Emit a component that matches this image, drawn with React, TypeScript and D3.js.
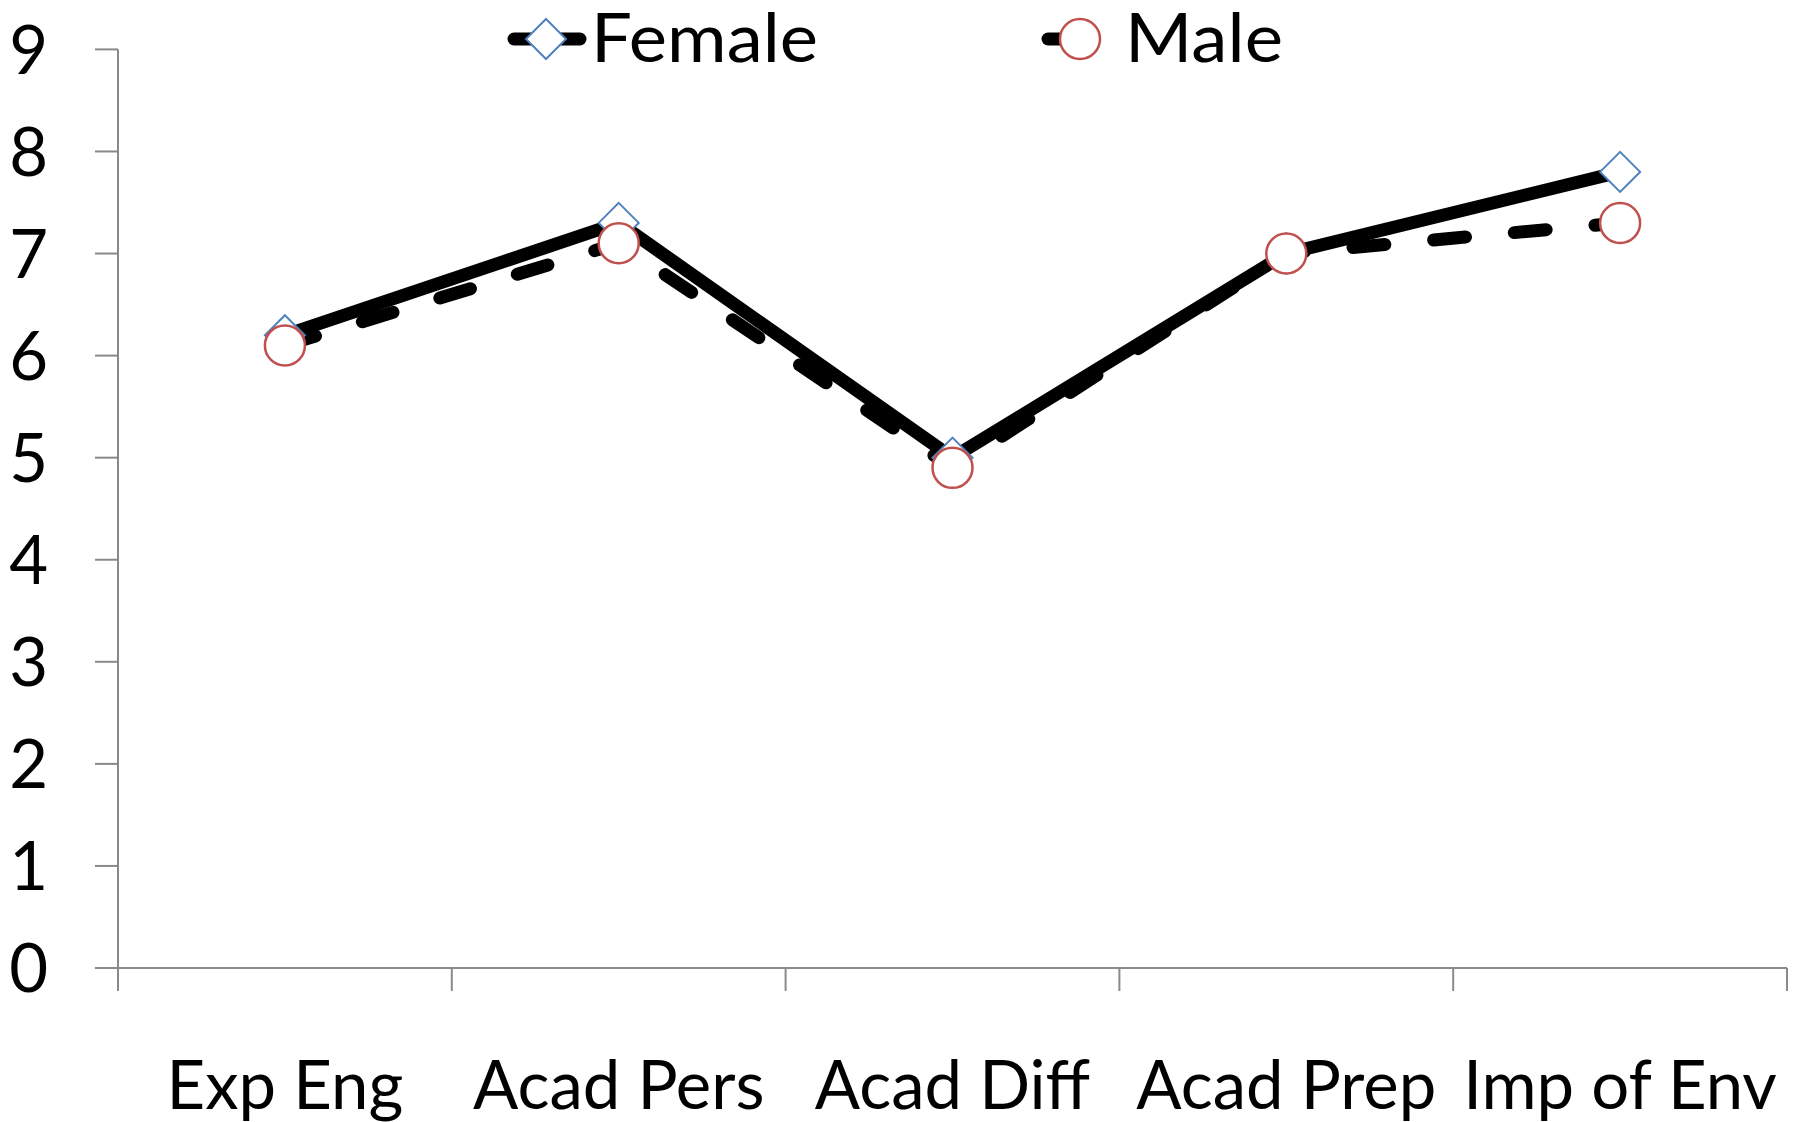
import React, { useEffect, useRef } from "react";
import * as d3 from "d3";

const categories = ["Exp Eng", "Acad Pers", "Acad Diff", "Acad Prep", "Imp of Env"];
const femaleValues = [6.2, 7.3, 5.0, 7.0, 7.8];
const maleValues = [6.1, 7.1, 4.9, 7.0, 7.3];
const yTicks = [0, 1, 2, 3, 4, 5, 6, 7, 8, 9];
const seriesNames = ["Female", "Male"];

const W = 1800;
const H = 1122;
const FONT = "Lato, 'Open Sans', sans-serif";

export default function App() {
  const ref = useRef<SVGSVGElement | null>(null);

  useEffect(() => {
    const svg = d3.select(ref.current);
    svg.selectAll("*").remove();

    const left = 118, right = 1787, top = 49.4, bottom = 968;
    const x = d3.scaleBand<string>().domain(categories).range([left, right]).padding(0);
    const y = d3.scaleLinear().domain([0, 9]).range([bottom, top]);
    const axisColor = "#898989";

    const g = svg.append("g");

    // Y axis
    g.append("line").attr("x1", left).attr("x2", left).attr("y1", y(0)).attr("y2", y(9))
      .attr("stroke", axisColor).attr("stroke-width", 2);
    yTicks.forEach((t) => {
      g.append("line").attr("x1", left - 23).attr("x2", left).attr("y1", y(t)).attr("y2", y(t))
        .attr("stroke", axisColor).attr("stroke-width", 2);
      g.append("text").attr("x", 48).attr("y", y(t)).attr("dy", "0.36em")
        .attr("text-anchor", "end").attr("font-family", FONT).attr("font-size", 67)
        .attr("fill", "#000").text(String(t));
    });

    // X axis
    g.append("line").attr("x1", left).attr("x2", right).attr("y1", bottom).attr("y2", bottom)
      .attr("stroke", axisColor).attr("stroke-width", 2);
    const boundaries = categories.map((c) => x(c) as number).concat([right]);
    boundaries.forEach((bx) => {
      g.append("line").attr("x1", bx).attr("x2", bx).attr("y1", bottom).attr("y2", bottom + 23)
        .attr("stroke", axisColor).attr("stroke-width", 2);
    });
    categories.forEach((c) => {
      g.append("text").attr("x", (x(c) as number) + x.bandwidth() / 2).attr("y", 1109)
        .attr("text-anchor", "middle").attr("font-family", FONT).attr("font-size", 67)
        .attr("fill", "#000").text(c);
    });

    const cx = (i: number) => (x(categories[i]) as number) + x.bandwidth() / 2;
    const line = d3.line<number>().x((_, i) => cx(i)).y((v) => y(v));

    // Female line (solid)
    g.append("path").attr("d", line(femaleValues) as string).attr("fill", "none")
      .attr("stroke", "#000").attr("stroke-width", 13).attr("stroke-linejoin", "round")
      .attr("stroke-linecap", "round");
    // Male line (dashed)
    g.append("path").attr("d", line(maleValues) as string).attr("fill", "none")
      .attr("stroke", "#000").attr("stroke-width", 13).attr("stroke-linejoin", "round")
      .attr("stroke-linecap", "round").attr("stroke-dasharray", "32 49");

    const diamond = (px: number, py: number, r: number) =>
      `M${px},${py - r}L${px + r},${py}L${px},${py + r}L${px - r},${py}Z`;

    femaleValues.forEach((v, i) => {
      g.append("path").attr("d", diamond(cx(i), y(v), 20)).attr("fill", "#fff")
        .attr("stroke", "#4F81BD").attr("stroke-width", 2);
    });
    maleValues.forEach((v, i) => {
      g.append("circle").attr("cx", cx(i)).attr("cy", y(v)).attr("r", 20).attr("fill", "#fff")
        .attr("stroke", "#C0504D").attr("stroke-width", 2.5);
    });

    // Legend
    const ly = 39;
    const leg = g.append("g");
    // Female
    leg.append("line").attr("x1", 514).attr("x2", 580).attr("y1", ly).attr("y2", ly)
      .attr("stroke", "#000").attr("stroke-width", 13).attr("stroke-linecap", "round");
    leg.append("path").attr("d", diamond(546, ly, 20)).attr("fill", "#fff")
      .attr("stroke", "#4F81BD").attr("stroke-width", 2);
    leg.append("text").attr("x", 591).attr("y", 62).attr("font-family", FONT)
      .attr("font-size", 67).attr("fill", "#000")
      .attr("textLength", 227).attr("lengthAdjust", "spacingAndGlyphs").text(seriesNames[0]);
    // Male
    leg.append("line").attr("x1", 1048).attr("x2", 1114).attr("y1", ly).attr("y2", ly)
      .attr("stroke", "#000").attr("stroke-width", 13).attr("stroke-linecap", "round")
      .attr("stroke-dasharray", "32 49");
    leg.append("circle").attr("cx", 1080).attr("cy", ly).attr("r", 20).attr("fill", "#fff")
      .attr("stroke", "#C0504D").attr("stroke-width", 2.5);
    leg.append("text").attr("x", 1125).attr("y", 62).attr("font-family", FONT)
      .attr("font-size", 67).attr("fill", "#000")
      .attr("textLength", 158).attr("lengthAdjust", "spacingAndGlyphs").text(seriesNames[1]);
  }, []);

  return (
    <svg
      ref={ref}
      width={W}
      height={H}
      style={{ position: "absolute", left: 0, top: 0, background: "#fff" }}
    />
  );
}
